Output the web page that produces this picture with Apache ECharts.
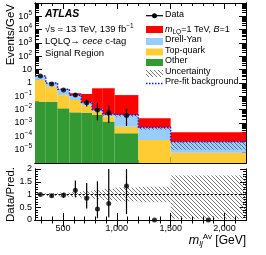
<!DOCTYPE html>
<html><head><meta charset="utf-8">
<script src="https://cdn.jsdelivr.net/npm/echarts@6/dist/echarts.min.js"></script>
<style>html,body{margin:0;padding:0;background:#fff}#c{width:266px;height:255px}</style>
</head><body><div id="c"></div>
<script>
// ---------------- data ----------------
const binEdges   = [240, 340, 450, 560, 670, 770, 870, 980, 1200, 1500, 2200];
const otherBkg   = [0.04, 0.04, 0.0126, 0.0063, 0.006, 0.004, 0.0013, 0.00017, 0, 0];
const topQuark   = [1.66, 0.49, 0.11, 0.047, 0.014, 0.003, 0.0017, 0.00035, 0.000053, 0.0000059];
const drellYan   = [1.7, 0.47, 0.21, 0.067, 0.015, 0.003, 0.0015, 0.0035, 0.0004, 0.000034];
const signalLQ   = [0.002, 0.005, 0.02, 0.05, 0.115, 0.39, 0.4, 0.12, 0.0018, 0.00016];
const prefitBkg  = [3.4, 1.0, 0.333, 0.12, 0.035, 0.01, 0.0045, 0.004, 0.00045, 0.00004];
const mainUncRel = [0.05, 0.06, 0.08, 0.1, 0.13, 0.17, 0.22, 0.27, 0.3, 0.75];
const ratioUncLo = [0.95, 0.94, 0.92, 0.9, 0.87, 0.83, 0.78, 0.73, 0.7, 0.05];
const ratioUncHi = [1.05, 1.06, 1.08, 1.1, 1.13, 1.17, 1.22, 1.27, 1.3, 1.75];
const dataVals   = [3.3, 0.83, 0.30, 0.126, 0.033, 0.0093, 0.0059, 0.0036, 0, 0];
const dataLo     = [3.2, 0.78, 0.27, 0.09, 0.017, 0.0016, 0.001, 0.0006, 0, 0];
const dataHi     = [3.4, 0.88, 0.33, 0.17, 0.058, 0.031, 0.02, 0.012, 0, 0];
const ratioVals  = [1.0, 0.95, 0.97, 1.17, 0.85, 0.43, 0.65, 1.33, 0, 0];
const ratioLo    = [0.97, 0.9, 0.87, 0.88, 0.45, 0.07, 0.11, 0.23, 0, 0];
const ratioHi    = [1.03, 1.0, 1.07, 1.55, 1.45, 1.52, 2.2, 4.4, 0, 0];
const xMajorTicks = [500, 1000, 1500, 2000];
const xMinorTicks = [300, 400, 600, 700, 800, 900, 1100, 1200, 1300, 1400, 1600, 1700, 1800, 1900, 2100];
const yLogLabels = [1e-5, 1e-4, 1e-3, 1e-2, 1e-1, 1, 10, 1e2, 1e3, 1e4, 1e5];
const ratioLabels = [0, 0.5, 1, 1.5, 2];

// ---------------- helpers ----------------
const X_MIN = 240, X_MAX = 2200, Y_MIN = 1e-6, Y_MAX = 1e6;
const FONT = 'Liberation Sans';
const yMajorTicks = []; for (let e = -6; e <= 6; e++) yMajorTicks.push(Math.pow(10, e));
const yMinorTicks = []; for (let e = -6; e < 6; e++) for (let k = 2; k <= 9; k++) yMinorTicks.push(k * Math.pow(10, e));
const rMinorTicks = [0.1,0.2,0.3,0.4,0.6,0.7,0.8,0.9,1.1,1.2,1.3,1.4,1.6,1.7,1.8,1.9];

function hatch() {
  const c = document.createElement('canvas'); c.width = 4; c.height = 4;
  const g = c.getContext('2d'); g.strokeStyle = '#555'; g.lineWidth = 0.8;
  g.beginPath(); g.moveTo(-1, -1); g.lineTo(5, 5); g.moveTo(-1, 3); g.lineTo(1, 5); g.moveTo(3, -1); g.lineTo(5, 1); g.stroke();
  return c;
}
const hatchPat = { image: hatch(), repeat: 'repeat' };

const nb = dataVals.length;
const c1 = [], c2 = [], c3 = [], c4 = [];
for (let i = 0; i < nb; i++) {
  c1.push(otherBkg[i]);
  c2.push(c1[i] + topQuark[i]);
  c3.push(c2[i] + drellYan[i]);
  c4.push(c3[i] + signalLQ[i]);
}
function stackData(lo, hi) { return binEdges.slice(0, -1).map((x0, i) => [x0, binEdges[i + 1], lo ? lo[i] : 0, hi[i]]); }

function rectRender(fill, yMinV, yMaxV) {
  return function (params, api) {
    let y0 = api.value(2), y1 = api.value(3);
    y0 = Math.min(Math.max(y0, yMinV), yMaxV); y1 = Math.min(Math.max(y1, yMinV), yMaxV);
    if (!(y1 > y0)) return null;
    const p0 = api.coord([api.value(0), y0]);
    const p1 = api.coord([api.value(1), y1]);
    return { type: 'rect', shape: { x: p0[0], y: p1[1], width: p1[0] - p0[0], height: p0[1] - p1[1] }, style: { fill: fill } };
  };
}
function histSeries(name, lo, hi, fill, z) {
  return { type: 'custom', name, xAxisIndex: 0, yAxisIndex: 0, data: stackData(lo, hi), renderItem: rectRender(fill, Y_MIN, Y_MAX), z, silent: true };
}
function errRender(yMinV, yMaxV) {
  return function (params, api) {
    const lo = Math.max(api.value(1), yMinV), hi = Math.min(api.value(2), yMaxV);
    if (!(hi > lo)) return null;
    const a = api.coord([api.value(0), lo]), b = api.coord([api.value(0), hi]);
    return { type: 'line', shape: { x1: a[0], y1: a[1], x2: b[0], y2: b[1] }, style: { stroke: '#000', lineWidth: 1.2 } };
  };
}
const centers = binEdges.slice(0, -1).map((x, i) => (x + binEdges[i + 1]) / 2);

const prefitLine = [];
for (let i = 0; i < nb; i++) { prefitLine.push([binEdges[i], prefitBkg[i]]); prefitLine.push([binEdges[i + 1], prefitBkg[i]]); }

const uncMain = binEdges.slice(0, -1).map((x0, i) => [x0, binEdges[i + 1], c3[i] * (1 - mainUncRel[i]), c3[i] * (1 + mainUncRel[i])]);
const uncRatio = binEdges.slice(0, -1).map((x0, i) => [x0, binEdges[i + 1], ratioUncLo[i], ratioUncHi[i]]);

function logLabel(v) {
  const e = Math.round(Math.log10(v));
  if (e === 0) return '1';
  if (e === 1) return '10';
  return '{b|10}{s|' + (e < 0 ? '−' + (-e) : e) + '}';
}

const axLine = { show: true, lineStyle: { color: '#000', width: 1 } };
function xAx(grid, pos, ticks, len, labels) {
  return {
    type: 'value', gridIndex: grid, position: pos, min: X_MIN, max: X_MAX, splitNumber: 4,
    axisLine: axLine, splitLine: { show: false },
    axisTick: { show: true, inside: true, length: len, customValues: ticks, lineStyle: { color: '#000' } },
    axisLabel: labels ? { show: true, customValues: xMajorTicks, color: '#000', fontFamily: FONT, fontSize: 9, margin: 4 } : { show: false }
  };
}
function yLogAx(pos, ticks, len, labels) {
  return {
    type: 'log', logBase: 10, gridIndex: 0, position: pos, min: Y_MIN, max: Y_MAX, splitNumber: 12,
    axisLine: axLine, splitLine: { show: false },
    axisTick: { show: true, inside: true, length: len, customValues: ticks, lineStyle: { color: '#000' } },
    axisLabel: labels ? {
      show: true, customValues: yLogLabels, formatter: logLabel, color: '#000', fontFamily: FONT, fontSize: 9, margin: 3,
      rich: { b: { fontFamily: FONT, fontSize: 9, color: '#000', verticalAlign: 'middle', lineHeight: 12 },
              s: { fontFamily: FONT, fontSize: 6.5, color: '#000', verticalAlign: 'middle', lineHeight: 6, padding: [0, 0, 6, 0] } }
    } : { show: false }
  };
}
function yRatAx(pos, ticks, len, labels) {
  return {
    type: 'value', gridIndex: 1, position: pos, min: 0, max: 2, interval: 0.5,
    axisLine: axLine, splitLine: { show: false },
    axisTick: { show: true, inside: true, length: len, customValues: ticks, lineStyle: { color: '#000' } },
    axisLabel: labels ? { show: true, customValues: ratioLabels, color: '#000', fontFamily: FONT, fontSize: 9, margin: 3 } : { show: false }
  };
}

const chart = echarts.init(document.getElementById('c'), null, { renderer: 'canvas' });
const legX = 146, legW = 17;
const legTxt = (y, t, rich) => ({ type: 'text', left: 165, top: y - 6, style: { text: t, fontFamily: FONT, fontSize: 9, fill: '#000', rich: rich || {} } });
const legBox = (y, fill) => ({ type: 'rect', shape: { x: legX, y: y - 3.5, width: legW, height: 7 }, style: { fill } });

chart.setOption({
  animation: false,
  backgroundColor: '#fff',
  grid: [
    { left: 35, width: 211, top: 3, height: 160 },
    { left: 35, width: 211, top: 169, height: 51 }
  ],
  xAxis: [
    xAx(0, 'bottom', xMajorTicks, 6, false),
    xAx(0, 'bottom', xMinorTicks, 3, false),
    xAx(0, 'top', xMajorTicks, 6, false),
    xAx(0, 'top', xMinorTicks, 3, false),
    xAx(1, 'bottom', xMajorTicks, 7, true),
    xAx(1, 'bottom', xMinorTicks, 3.5, false),
    xAx(1, 'top', xMajorTicks, 7, false),
    xAx(1, 'top', xMinorTicks, 3.5, false)
  ],
  yAxis: [
    yLogAx('left', yMajorTicks, 7, true),
    yLogAx('left', yMinorTicks, 4, false),
    yLogAx('right', yMajorTicks, 7, false),
    yLogAx('right', yMinorTicks, 4, false),
    yRatAx('left', ratioLabels, 6, true),
    yRatAx('left', rMinorTicks, 3, false),
    yRatAx('right', ratioLabels, 6, false),
    yRatAx('right', rMinorTicks, 3, false)
  ],
  series: [
    histSeries('Other', null, c1, '#339933', 1),
    histSeries('Top-quark', c1, c2, '#ffcc33', 2),
    histSeries('Drell-Yan', c2, c3, '#99ccff', 3),
    { type: 'custom', name: 'Uncertainty', xAxisIndex: 0, yAxisIndex: 0, data: uncMain, renderItem: rectRender(hatchPat, Y_MIN, Y_MAX), z: 4, silent: true },
    histSeries('Signal', c3, c4, '#ff0000', 5),
    { type: 'line', name: 'Pre-fit', xAxisIndex: 0, yAxisIndex: 0, data: prefitLine, symbol: 'none', z: 6,
      lineStyle: { color: '#1a1ad0', width: 1.5, type: [1.5, 1.5] }, silent: true },
    { type: 'custom', name: 'DataErr', xAxisIndex: 0, yAxisIndex: 0, data: centers.map((x, i) => [x, dataLo[i], dataHi[i]]), renderItem: errRender(Y_MIN, Y_MAX), z: 7, silent: true },
    { type: 'scatter', name: 'Data', xAxisIndex: 0, yAxisIndex: 0, data: centers.map((x, i) => dataVals[i] > 0 ? [x, dataVals[i]] : [x, '-']), symbol: 'circle', symbolSize: 5, itemStyle: { color: '#000' }, z: 8, silent: true },
    // ratio
    { type: 'custom', name: 'UncR', xAxisIndex: 4, yAxisIndex: 4, data: uncRatio, renderItem: rectRender(hatchPat, 0, 2), z: 2, silent: true },
    { type: 'line', name: 'one', xAxisIndex: 4, yAxisIndex: 4, data: [[X_MIN, 1], [X_MAX, 1]], symbol: 'none', z: 3,
      lineStyle: { color: '#000', width: 1, type: [2, 2] }, silent: true },
    { type: 'custom', name: 'RatioErr', xAxisIndex: 4, yAxisIndex: 4, data: centers.map((x, i) => [x, ratioLo[i], ratioHi[i]]), renderItem: errRender(0, 2), z: 4, silent: true },
    { type: 'scatter', name: 'Ratio', xAxisIndex: 4, yAxisIndex: 4, data: centers.map((x, i) => [x, ratioVals[i]]), symbol: 'circle', symbolSize: 5, itemStyle: { color: '#000' }, z: 5, silent: true, clip: false }
  ],
  graphic: [
    { type: 'text', left: 45, top: 9, style: { text: 'ATLAS', fontFamily: FONT, fontSize: 10.5, fontWeight: 'bold', fontStyle: 'italic', fill: '#000' } },
    { type: 'text', left: 45, top: 23, style: { text: '√s = 13 TeV, 139 fb{s|−1}', fontFamily: FONT, fontSize: 9.5, fill: '#000',
      rich: { s: { fontFamily: FONT, fontSize: 6.5, verticalAlign: 'middle', lineHeight: 6, padding: [0, 0, 6, 0] } } } },
    { type: 'text', left: 45, top: 36, style: { text: 'LQLQ→ {i|cece} c-tag', fontFamily: FONT, fontSize: 9.5, fill: '#000',
      rich: { i: { fontFamily: FONT, fontSize: 9.5, fontStyle: 'italic' } } } },
    { type: 'text', left: 45, top: 48, style: { text: 'Signal Region', fontFamily: FONT, fontSize: 9.5, fill: '#000' } },
    // legend
    { type: 'line', shape: { x1: legX, y1: 15.7, x2: legX + legW, y2: 15.7 }, style: { stroke: '#000', lineWidth: 1.2 } },
    { type: 'circle', shape: { cx: legX + legW / 2, cy: 15.7, r: 2.5 }, style: { fill: '#000' } },
    legTxt(15.7, 'Data'),
    legBox(29.5, '#ff0000'),
    legTxt(29.5, '{i|m}{sub|LQ}=1 TeV, {i|B}=1', {
      i: { fontFamily: FONT, fontSize: 9, fontStyle: 'italic' },
      sub: { fontFamily: FONT, fontSize: 6.5, verticalAlign: 'middle', lineHeight: 6, padding: [5, 0, 0, 0] } }),
    legBox(41.5, '#99ccff'), legTxt(41.5, 'Drell-Yan'),
    legBox(52, '#ffcc33'), legTxt(52, 'Top-quark'),
    legBox(62.5, '#339933'), legTxt(62.5, 'Other'),
    { type: 'rect', shape: { x: legX, y: 73.5 - 3.5, width: legW, height: 7 }, style: { fill: hatchPat } },
    legTxt(73.5, 'Uncertainty'),
    { type: 'line', shape: { x1: legX, y1: 83.5, x2: legX + legW, y2: 83.5 }, style: { stroke: '#1a1ad0', lineWidth: 1.5, lineDash: [1.5, 1.5] } },
    legTxt(83.5, 'Pre-fit background'),
    // axis titles
    { type: 'text', x: 11, y: 4, rotation: Math.PI / 2, style: { text: 'Events/GeV', fontFamily: FONT, fontSize: 11.5, fill: '#000', align: 'right', verticalAlign: 'middle' } },
    { type: 'text', x: 11, y: 167, rotation: Math.PI / 2, style: { text: 'Data/Pred.', fontFamily: FONT, fontSize: 11.5, fill: '#000', align: 'right', verticalAlign: 'middle' } },
    { type: 'text', right: 20, top: 233, style: { text: '{i|m}{sub|lj}{sup|Av} [GeV]', fontFamily: FONT, fontSize: 12, fill: '#000',
      rich: { i: { fontFamily: FONT, fontSize: 12.5, fontStyle: 'italic' },
              sub: { fontFamily: FONT, fontSize: 8, fontStyle: 'italic', verticalAlign: 'middle', lineHeight: 8, padding: [7, 0, 0, 0] },
              sup: { fontFamily: FONT, fontSize: 8, verticalAlign: 'middle', lineHeight: 8, padding: [0, 0, 7, 0] } } } }
  ]
});
</script></body></html>
